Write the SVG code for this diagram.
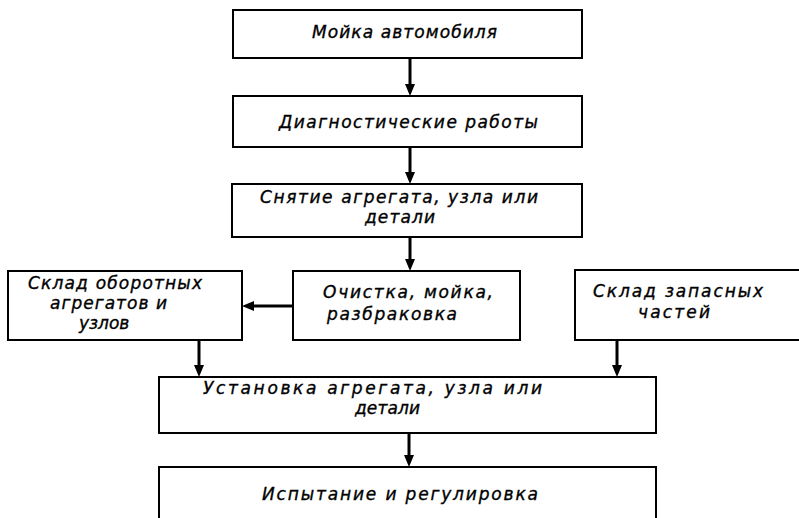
<svg xmlns="http://www.w3.org/2000/svg" width="799" height="518" viewBox="0 0 799 518">
<style>
.box{fill:#fff;stroke:#000;stroke-width:2}
.t{font-family:"DejaVu Sans","Liberation Sans",sans-serif;font-style:italic;font-size:17px;fill:#000;stroke:#000;stroke-width:0.35}
.c{fill:none;stroke:#000;stroke-width:3}
</style>
<defs>
<marker id="ah" viewBox="0 0 12 10" markerUnits="userSpaceOnUse" markerWidth="12" markerHeight="10" refX="6" refY="5" orient="auto">
<path d="M0,0 L12,5 L0,10 z" fill="#000"/>
</marker>
</defs>
<rect width="799" height="518" fill="#fff"/>
<g id="connectors">
<path class="c" d="M410,58 L410,90" marker-end="url(#ah)"/>
<path class="c" d="M410,147 L410,178" marker-end="url(#ah)"/>
<path class="c" d="M410,237 L410,265" marker-end="url(#ah)"/>
<path class="c" d="M293,306 L248,306" marker-end="url(#ah)"/>
<path class="c" d="M199,340 L199,371" marker-end="url(#ah)"/>
<path class="c" d="M617,340 L617,371" marker-end="url(#ah)"/>
<path class="c" d="M409,433 L409,461" marker-end="url(#ah)"/>
</g>
<g id="n1">
<rect class="box" x="233" y="10" width="349" height="48"/>
<text class="t" x="312" y="38" textLength="185" lengthAdjust="spacing">Мойка  автомобиля</text>
</g>
<g id="n2">
<rect class="box" x="233" y="96" width="349" height="51"/>
<text class="t" x="279" y="128" textLength="259" lengthAdjust="spacing">Диагностические  работы</text>
</g>
<g id="n3">
<rect class="box" x="232" y="184" width="350" height="53"/>
<text class="t" x="260" y="203" textLength="278" lengthAdjust="spacing">Снятие  агрегата, узла  или</text>
<text class="t" x="365" y="223" textLength="70" lengthAdjust="spacing">детали</text>
</g>
<g id="n4">
<rect class="box" x="8" y="271" width="234" height="69"/>
<text class="t" x="28" y="289" textLength="174" lengthAdjust="spacing">Склад  оборотных</text>
<text class="t" x="50" y="309" textLength="117" lengthAdjust="spacing">агрегатов  и</text>
<text class="t" x="79" y="329">узлов</text>
</g>
<g id="n5">
<rect class="box" x="293" y="271" width="227" height="69"/>
<text class="t" x="323" y="298" textLength="170" lengthAdjust="spacing">Очистка, мойка,</text>
<text class="t" x="327" y="320" textLength="130" lengthAdjust="spacing">разбраковка</text>
</g>
<g id="n6">
<rect class="box" x="575" y="270" width="230" height="70"/>
<text class="t" x="593" y="297" textLength="170" lengthAdjust="spacing">Склад  запасных</text>
<text class="t" x="638" y="318" textLength="72" lengthAdjust="spacing">частей</text>
</g>
<g id="n7">
<rect class="box" x="159" y="377" width="497" height="56"/>
<text class="t" x="203" y="394" textLength="339" lengthAdjust="spacing">Установка  агрегата, узла  или</text>
<text class="t" x="355" y="414" textLength="65" lengthAdjust="spacing">детали</text>
</g>
<g id="n8">
<rect class="box" x="159" y="467" width="497" height="70"/>
<text class="t" x="262" y="500" textLength="276" lengthAdjust="spacing">Испытание  и  регулировка</text>
</g>
</svg>
